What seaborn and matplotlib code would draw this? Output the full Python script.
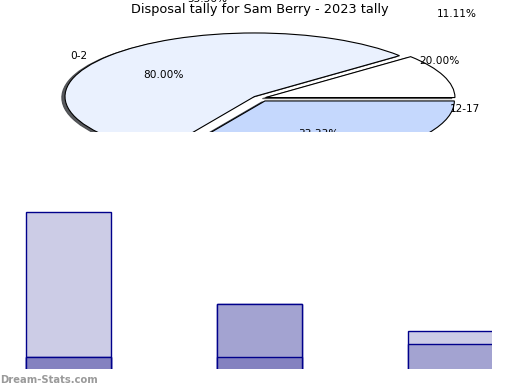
import matplotlib
matplotlib.use("Agg")
import matplotlib.pyplot as plt
import seaborn as sns
import pandas as pd

# ---------------- data ----------------
title = "Disposal tally for Sam Berry - 2023 tally"
pie_values = [11.11, 55.56, 33.33]
pie_colors = ["#ffffff", "#eaf1fe", "#c5d8fd"]
extra_pct_labels = ["80.00%", "20.00%"]
range_labels = ["0-2", "12-17"]

bar_groups = ["g1", "g2", "g3"]
series_dark = [1, 1, 0]
series_mid = [0, 4, 2]
series_light = [11, 0, 1]
bar_colors = ["#8482c0", "#a3a3d1", "#cccce6"]
watermark = "Dream-Stats.com"

# ---------------- style ----------------
sns.set_theme(style="white")
plt.rcParams["font.family"] = ["DejaVu Sans"]

W, H = 520, 390
fig = plt.figure(figsize=(W / 100, H / 100), dpi=100)
fig.patch.set_facecolor("white")

# pie geometry (pixels)
CX, CY, RX, RY = 260.2, 98.2, 189.4, 63.6


def px(x, y):
    return (x - CX) / RX, (CY - y) / RY


ax_pie = fig.add_axes([0, 0, 1, 1])
wedges, texts, autotexts = ax_pie.pie(
    pie_values,
    colors=pie_colors,
    explode=[0.03, 0.04, 0.05],
    startangle=0,
    counterclock=True,
    shadow={"ox": -0.012, "oy": -0.012, "alpha": 0.9},
    autopct="%.2f%%",
    wedgeprops=dict(edgecolor="black", linewidth=0.8),
    textprops=dict(fontsize=7.6, color="black"),
)
ax_pie.set_aspect("auto")
ax_pie.set_xlim(-CX / RX, (W - CX) / RX)
ax_pie.set_ylim((CY - H) / RY, CY / RY)
ax_pie.axis("off")

pct_positions = [(457, 14), (207, -1), (318, 134.5)]
for t, (x, y) in zip(autotexts, pct_positions):
    t.set_position(px(x, y))
    t.set_ha("center")
    t.set_va("center")

for lab, (x, y) in zip(extra_pct_labels, [(163, 75), (439, 61)]):
    ax_pie.text(*px(x, y), lab, ha="center", va="center", fontsize=7.6, color="black")
for lab, (x, y) in zip(range_labels, [(79, 56), (465, 109)]):
    ax_pie.text(*px(x, y), lab, ha="center", va="center", fontsize=7.6, color="black")

fig.text(260 / W, 1 - 10 / H, title, ha="center", va="center", fontsize=9.3, color="black")

# ---------------- bars ----------------
top_px, bot_px, right_px = 131.5, 369.3, 492
ax_bar = fig.add_axes([0, (H - bot_px) / H, right_px / W, (bot_px - top_px) / H])
ax_bar.set_facecolor("white")

df = pd.DataFrame({"group": bar_groups, "dark": series_dark,
                   "mid": series_mid, "light": series_light})
df["c_dark"] = df["dark"]
df["c_mid"] = df["dark"] + df["mid"]
df["c_total"] = df["dark"] + df["mid"] + df["light"]

for col, color in [("c_total", bar_colors[2]), ("c_mid", bar_colors[1]), ("c_dark", bar_colors[0])]:
    sns.barplot(data=df, x="group", y=col, color=color, saturation=1, width=0.45,
                edgecolor="#00008b", linewidth=1.0, errorbar=None, ax=ax_bar)

unit_px = 13.25
y0 = 0.1
ax_bar.set_xlim(-68.5 / 191, (right_px - 68.5) / 191)
ax_bar.set_ylim(y0, y0 + (bot_px - top_px) / unit_px)
sns.despine(ax=ax_bar, left=True, bottom=True, top=True, right=True)
ax_bar.set_xticks([])
ax_bar.set_yticks([])
ax_bar.set_xlabel("")
ax_bar.set_ylabel("")
ax_bar.grid(False)

fig.text(0.0, 1 - 380 / H, watermark, ha="left", va="center", fontsize=7.2,
         fontweight="bold", color="#9a9a9a")

fig.savefig("out.png", dpi=100)
